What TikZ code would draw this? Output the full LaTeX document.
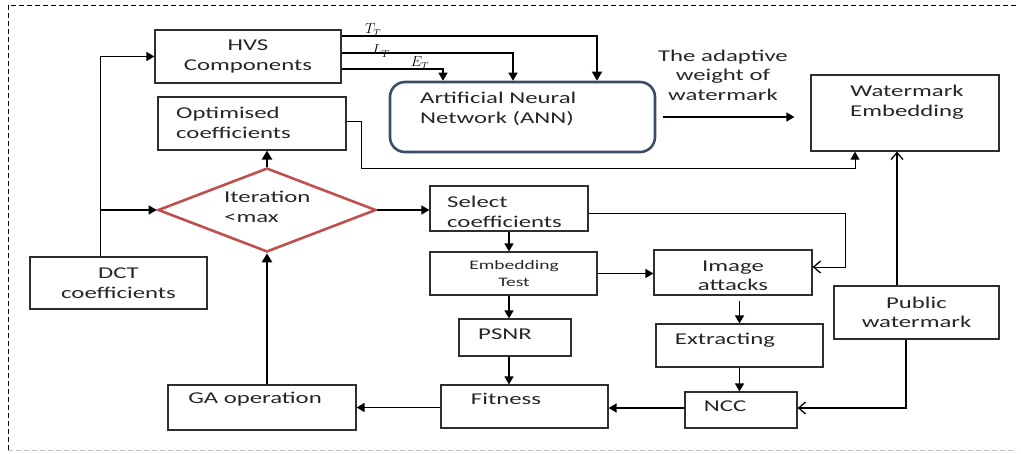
\documentclass[tikz,border=0pt]{standalone}
\usepackage{fontspec}
\setmainfont[FakeStretch=1.5]{Carlito}
\usetikzlibrary{shapes.geometric,arrows.meta}
\definecolor{boxgray}{HTML}{2E2E2E}
\definecolor{anncol}{HTML}{3A4C66}
\definecolor{diacol}{HTML}{C0504D}
\tikzset{
  box/.style={draw=boxgray, line width=1.2pt, inner sep=0pt},
  txt/.style={inner sep=0pt, align=center, font=\fontsize{16.5}{19.5}\selectfont, text=black!85},
  lbl/.style={inner sep=0pt, font=\fontsize{14}{14}\selectfont},
  farrow/.style={line width=1.4pt, -{Triangle[length=8pt,width=9pt]}},
  tarrow/.style={line width=2.4pt, -{Triangle[length=9pt,width=10pt]}},
  oarrow/.style={line width=1.3pt, -{Straight Barb[length=7pt,width=12pt,line width=1.3pt]}}
}
\begin{document}
\begin{tikzpicture}[x=1pt,y=-1pt]
    \useasboundingbox (0,0) rectangle (1021,453);
    % frame
    \draw[line width=0.8pt, dash pattern=on 5pt off 3pt] (8,450) -- (8,5) -- (1016,5);
    \draw[black!25, line width=0.8pt, dash pattern=on 5pt off 3pt] (8,450) -- (1016,450);

    % boxes
    \node at (248,56.5) [box, minimum width=186pt, minimum height=53pt, txt] (hvs) {HVS\\Components};
    \node at (252,123.5) [box, minimum width=188pt, minimum height=53pt] (opt) {};
    \node at (176,123) [txt, anchor=west, align=left] (optt) {Optimised\\coefficients};
    \node at (522.5,117) [draw=anncol, line width=2.6pt, rounded corners=15pt, minimum width=265pt, minimum height=70pt] (ann) {};
    \node at (420,109) [txt, anchor=west, align=left] (annt) {Artificial Neural\\Network (ANN)};
    \node at (905,113) [box, minimum width=188pt, minimum height=76pt] (wme) {};
    \node at (907,102) [txt] (wmet) {Watermark\\Embedding};
    \node at (723,75) [txt] (weight) {The adaptive\\weight of\\watermark};

    \node at (267,210) [diamond, draw=diacol, line width=2.6pt, inner sep=0pt, minimum width=218pt, minimum height=84pt] (dia) {};
    \node at (224,207) [txt, anchor=west, align=left] (diat) {Iteration\\<max};
    \node at (509,208.5) [box, minimum width=158pt, minimum height=45pt] (sel) {};
    \node at (447,212) [txt, anchor=west, align=left] (selt) {Select\\coefficients};
    \node at (118.5,283) [box, minimum width=177pt, minimum height=52pt, txt] (dct) {DCT\\coefficients};
    \node at (513.5,273.5) [box, minimum width=167pt, minimum height=43pt] (emb) {};
    \node at (514,274) [txt, font=\fontsize{13}{17}\selectfont] (embt) {Embedding\\Test};
    \node at (733,272.5) [box, minimum width=158pt, minimum height=45pt] (att) {};
    \node at (733,276) [txt] (attt) {Image\\attacks};
    \node at (515,337.5) [box, minimum width=112pt, minimum height=37pt] (psnr) {};
    \node at (505,334) [txt] (psnrt) {PSNR};
    \node at (739.5,345.5) [box, minimum width=167pt, minimum height=43pt] (ext) {};
    \node at (725,340) [txt] (extt) {Extracting};
    \node at (916.5,312.5) [box, minimum width=165pt, minimum height=53pt, txt] (pub) {Public\\watermark};
    \node at (262,407.5) [box, minimum width=188pt, minimum height=45pt] (ga) {};
    \node at (255,399) [txt] (gat) {GA operation};
    \node at (524.5,406.5) [box, minimum width=167pt, minimum height=43pt] (fit) {};
    \node at (506,399) [txt] (fitt) {Fitness};
    \node at (741,410) [box, minimum width=112pt, minimum height=36pt] (ncc) {};
    \node at (725,406) [txt] (ncct) {NCC};

    % HVS outputs
    \node at (373,30) [lbl] (tt) {$T_T$};
    \node at (381,51) [lbl] (lt) {$L_T$};
    \node at (420,63) [lbl] (et) {$E_T$};
    \draw[tarrow, line width=1.4pt] ([yshift=20.5pt]hvs.east) -| ([xshift=74.5pt]ann.north);
    \draw[line width=2.4pt] ([xshift=74.5pt]ann.north |- 0,36) -- ([xshift=74.5pt,yshift=9pt]ann.north);
    \draw[farrow] ([yshift=3.5pt]hvs.east) -| ([xshift=-9.5pt]ann.north);
    \draw[farrow] ([yshift=-12.5pt]hvs.east) -| ([xshift=-79.5pt]ann.north);

    \draw[farrow, shorten <=7pt, shorten >=16pt] (ann.east) -- (ann.east -| wme.west);
    \draw[farrow, line width=1pt] ([yshift=2.5pt]opt.east) -- ++(15,0) -- ++(0,47) -| ([xshift=-50pt]wme.south);
    \draw[oarrow, line width=2.2pt] ([xshift=-19.5pt]pub.north) -- ([xshift=-19.5pt]pub.north |- wme.south);

    % DCT inputs
    \draw[farrow] ([xshift=-18pt]dct.north) |- (hvs.west);
    \draw[farrow] ([xshift=-18pt]dct.north |- dia.west) -- (dia.west);

    % loop
    \draw[tarrow] (dia.north) -- (dia.north |- opt.south);
    \draw[farrow] (dia.east) -- (dia.east -| sel.west);
    \draw[oarrow, line width=1pt] ([yshift=-4.5pt]sel.east) -- ++(257,0) |- ([yshift=5.5pt]att.east);
    \draw[farrow] (sel.south) -- (sel.south |- emb.north);
    \draw[farrow] (emb.east) -- (emb.east -| att.west);
    \draw[farrow] (emb.south -| sel.south) -- (psnr.north -| sel.south);
    \draw[farrow] (psnr.south -| sel.south) -- (fit.north -| sel.south);
    \draw[farrow, shorten <=5pt] (ext.north |- att.south) -- (ext.north);
    \draw[farrow] (ext.south) -- (ext.south |- ncc.north);
    \draw[farrow] ([yshift=2pt]ncc.west) -- ([yshift=2pt]ncc.west -| fit.east);
    \draw[farrow] ([yshift=-1pt]fit.west) -- ([yshift=-1pt]fit.west -| ga.east);
    \draw[tarrow] (dia.south |- ga.north) -- (dia.south);
    \draw[oarrow] ([xshift=-10.5pt]pub.south) |- ([yshift=2pt]ncc.east);
\end{tikzpicture}
\end{document}
